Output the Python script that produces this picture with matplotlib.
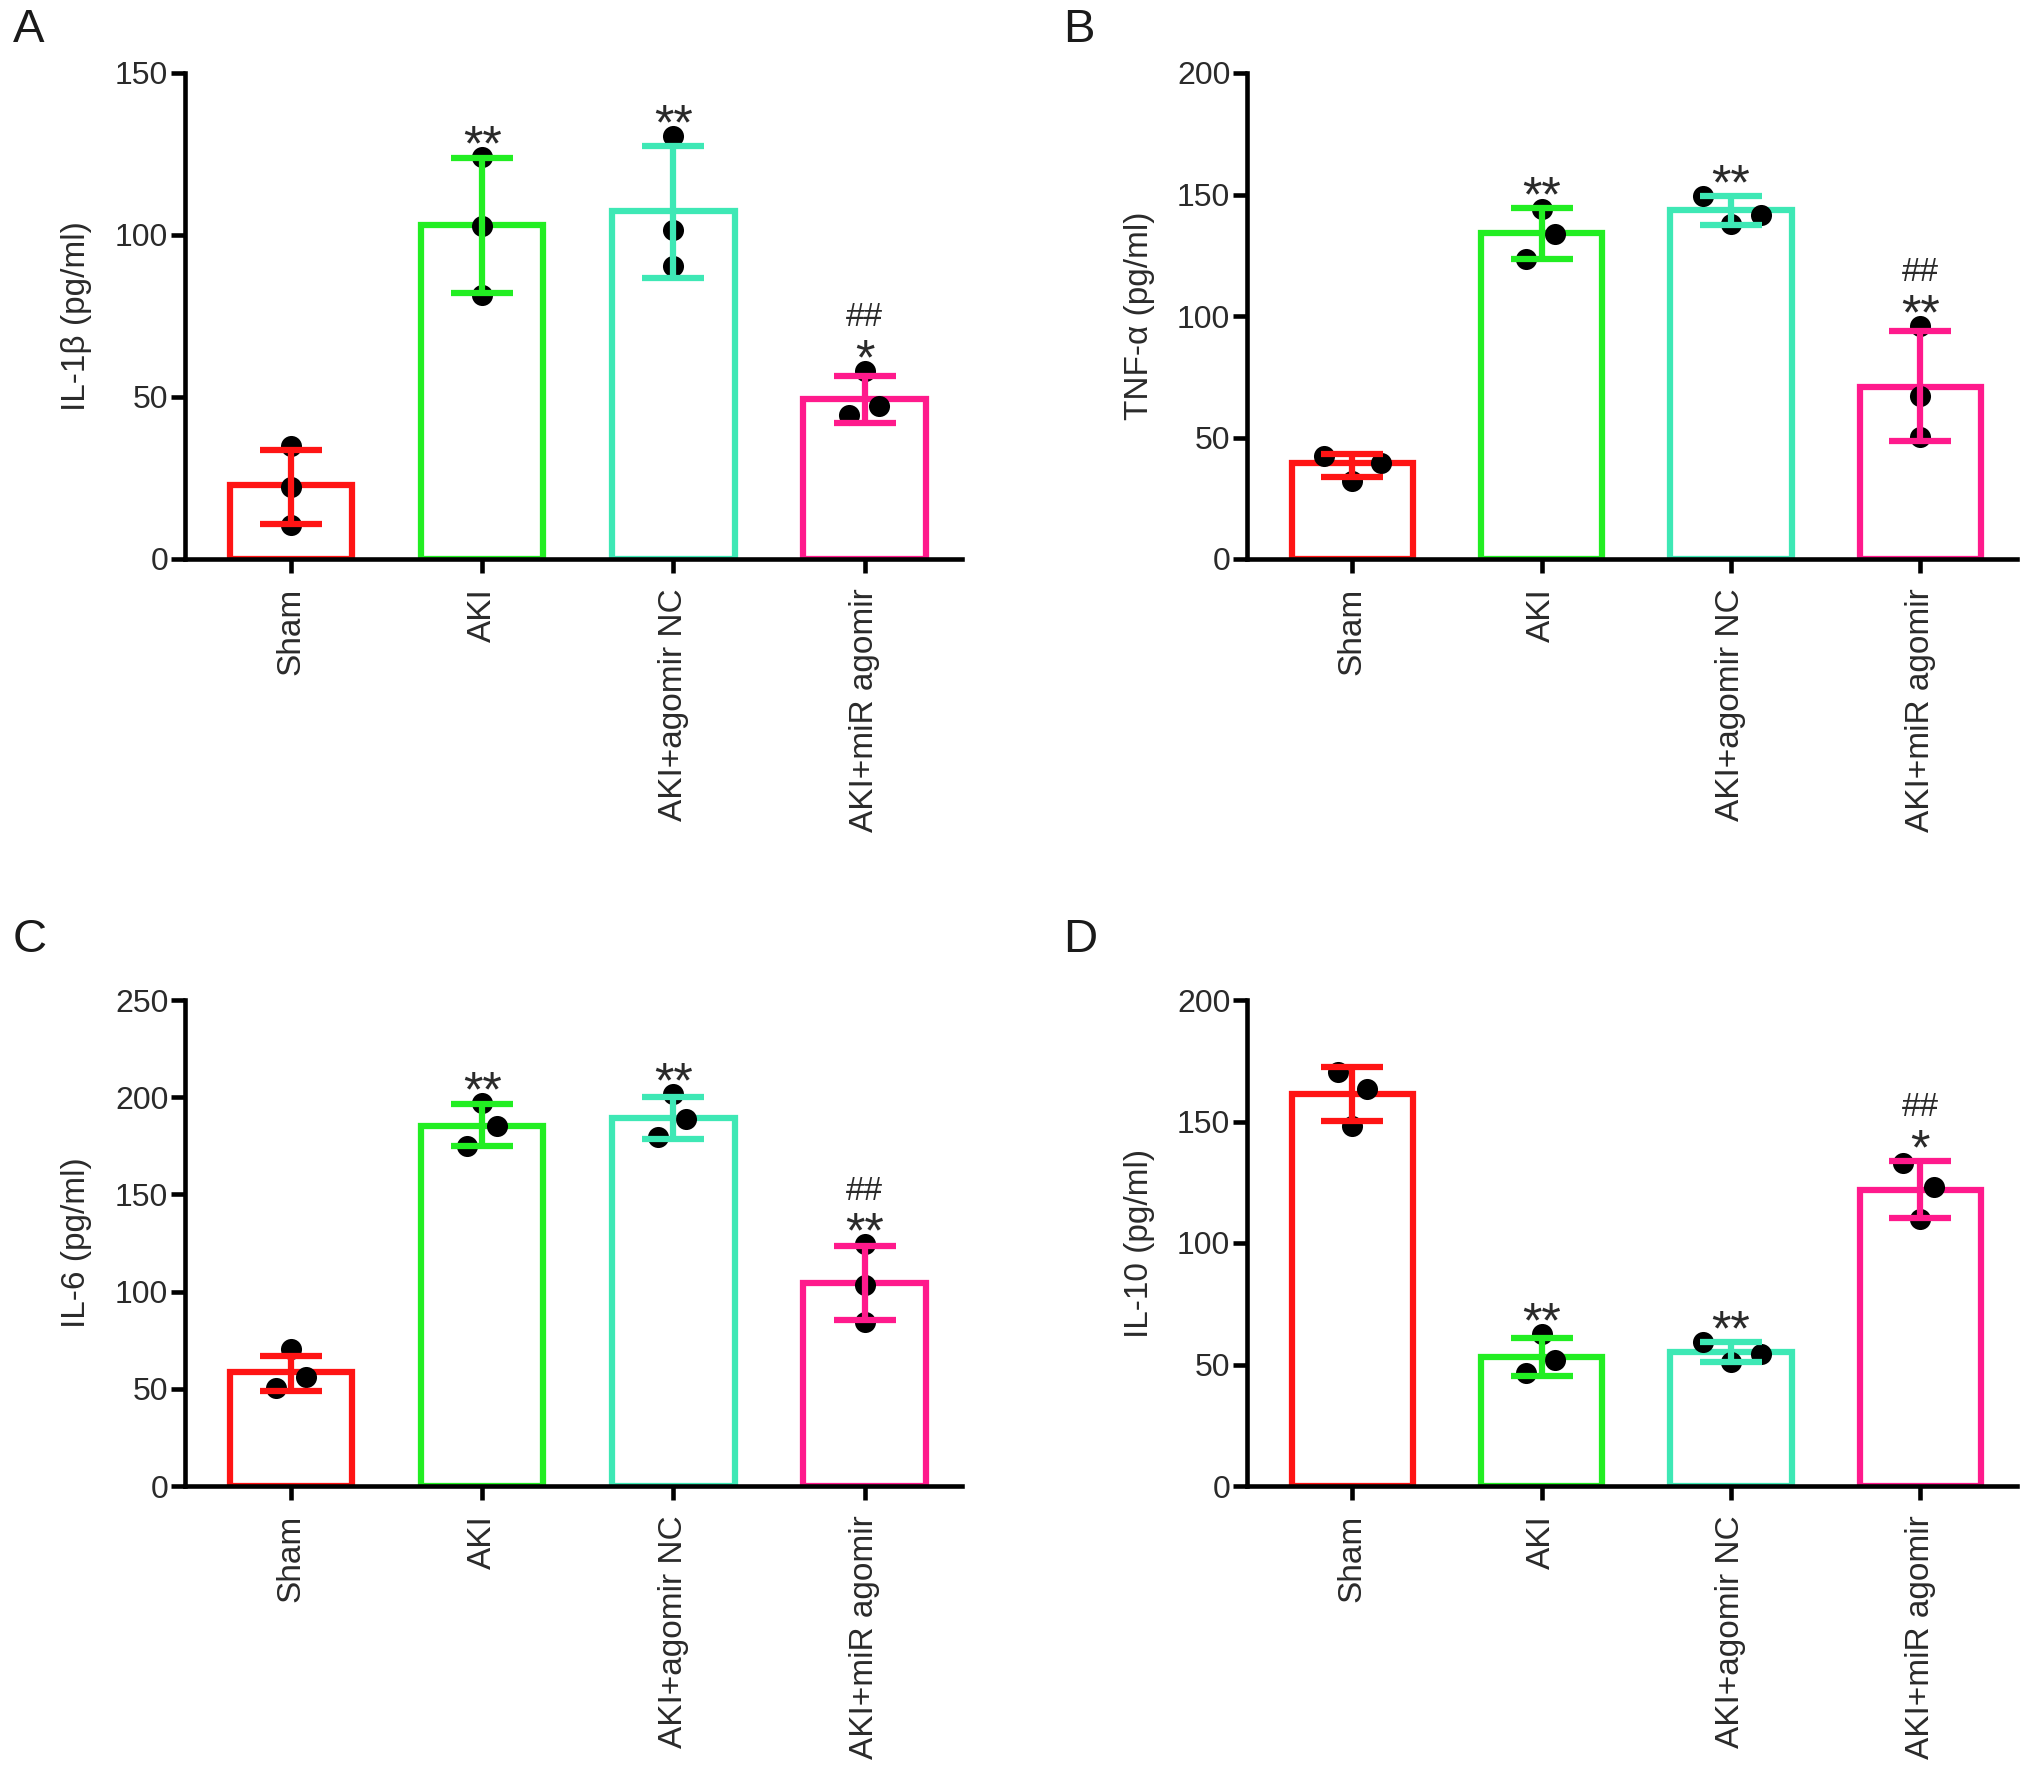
import matplotlib
matplotlib.use("Agg")
import matplotlib.pyplot as plt
import numpy as np

plt.rcParams['font.family'] = ['Liberation Sans', 'DejaVu Sans']

groups = ["Sham", "AKI", "AKI+agomir NC", "AKI+miR agomir"]
colors = ["#FF1414", "#22EE22", "#3EE8B5", "#FF1A8C"]

# Panel A: IL-1beta
a_mean = [22.7, 103.0, 107.5, 49.4]
a_lo = [10.9, 82.0, 86.6, 41.9]
a_hi = [33.7, 123.8, 127.6, 56.5]
a_pts = [[34.8, 22.2, 10.6], [124.0, 102.7, 81.5], [130.5, 101.6, 90.4], [58.1, 44.3, 47.2]]
a_jit = [[0, 0, 0], [0, 0, 0], [0, 0, 0], [0, -0.08, 0.075]]
a_star = ["", "**", "**", "*"]
a_hash = ["", "", "", "##"]

# Panel B: TNF-alpha
b_mean = [39.4, 134.3, 143.6, 70.9]
b_lo = [33.9, 123.6, 137.5, 48.5]
b_hi = [43.3, 144.4, 149.3, 93.7]
b_pts = [[42.5, 32.3, 39.4], [144.0, 133.9, 123.6], [149.3, 137.8, 141.7], [96.0, 66.9, 50.4]]
b_jit = [[-0.15, 0, 0.15], [0, 0.07, -0.08], [-0.15, 0, 0.16], [0, 0, 0]]
b_star = ["", "**", "**", "**"]
b_hash = ["", "", "", "##"]

# Panel C: IL-6
c_mean = [58.6, 185.2, 189.5, 104.6]
c_lo = [49.0, 174.9, 178.7, 85.6]
c_hi = [67.1, 196.4, 200.0, 123.2]
c_pts = [[70.3, 50.4, 56.0], [197.0, 175.0, 185.0], [201.5, 179.3, 188.8], [124.5, 103.6, 84.6]]
c_jit = [[0, -0.08, 0.077], [0, -0.08, 0.075], [0, -0.08, 0.067], [0, 0, 0]]
c_star = ["", "**", "**", "**"]
c_hash = ["", "", "", "##"]

# Panel D: IL-10
d_mean = [161.2, 53.2, 55.1, 121.7]
d_lo = [150.1, 45.3, 51.0, 110.3]
d_hi = [172.6, 61.1, 59.3, 133.8]
d_pts = [[170.3, 163.5, 148.3], [62.7, 51.7, 46.4], [59.3, 51.0, 54.4], [133.1, 123.2, 109.8]]
d_jit = [[-0.075, 0.078, 0], [0, 0.07, -0.08], [-0.15, 0, 0.16], [-0.09, 0.07, 0]]
d_star = ["", "**", "**", "*"]
d_hash = ["", "", "", "##"]

panels = [
    ("A", "IL-1β (pg/ml)", 150, [0, 50, 100, 150], a_mean, a_lo, a_hi, a_pts, a_jit, a_star, a_hash),
    ("B", "TNF-α (pg/ml)", 200, [0, 50, 100, 150, 200], b_mean, b_lo, b_hi, b_pts, b_jit, b_star, b_hash),
    ("C", "IL-6 (pg/ml)", 250, [0, 50, 100, 150, 200, 250], c_mean, c_lo, c_hi, c_pts, c_jit, c_star, c_hash),
    ("D", "IL-10 (pg/ml)", 200, [0, 50, 100, 150, 200], d_mean, d_lo, d_hi, d_pts, d_jit, d_star, d_hash),
]

W, H = 2032, 1773
fig = plt.figure(figsize=(W / 100, H / 100), dpi=100)

lefts = [185, 1247]
widths = [777, 770]
tops = [73, 1000]
height = 486
letter_pos = [(13, 8), (1063, 8), (13, 918), (1063, 918)]

text_col = "#2a2a2a"

for i, (letter, ylabel, ymax, yticks, mean, lo, hi, pts, jit, stars, hashes) in enumerate(panels):
    col = i % 2
    row = i // 2
    l = lefts[col] / W
    b = 1 - (tops[row] + height) / H
    ax = fig.add_axes([l, b, widths[col] / W, height / H])
    x = np.arange(len(groups))
    ax.bar(x, mean, width=0.64, facecolor="white", edgecolor=colors, linewidth=4.5, zorder=2)
    for j in range(len(groups)):
        ax.scatter(x[j] + np.array(jit[j]), pts[j], s=230, color="black", zorder=3, linewidths=0)
        ax.errorbar(x[j], mean[j], yerr=[[mean[j] - lo[j]], [hi[j] - mean[j]]], color=colors[j],
                    elinewidth=4.5, capsize=22, capthick=4.5, zorder=4, fmt="none")
        top = max(hi[j], max(pts[j]))
        if stars[j]:
            ax.annotate(stars[j], (x[j], top), xytext=(0, -2.5), textcoords="offset points",
                        ha="center", va="baseline", fontsize=36,
                        color=text_col, zorder=6)
        if hashes[j]:
            ax.annotate(hashes[j], (x[j], top), xytext=(0, 32), textcoords="offset points",
                        ha="center", va="baseline", fontsize=24, color=text_col, zorder=6)
    ax.set_xlim(-0.555, 3.51)
    ax.set_ylim(0, ymax)
    ax.set_yticks(yticks)
    ax.set_xticks(x)
    ax.set_xticklabels(groups, rotation=90, fontsize=24, color=text_col)
    ax.tick_params(axis="y", labelsize=23, labelcolor=text_col, length=10, width=3.3, pad=2)
    ax.tick_params(axis="x", length=10, width=3.3, pad=11)
    for s in ["top", "right"]:
        ax.spines[s].set_visible(False)
    for s in ["left", "bottom"]:
        ax.spines[s].set_linewidth(3.3)
        ax.spines[s].set_zorder(5)
    ax.set_ylabel(ylabel, fontsize=24, color=text_col)
    ax.yaxis.set_label_coords(-0.12, 0.5)
    lx, ly = letter_pos[i]
    fig.text(lx / W, 1 - ly / H, letter, fontsize=34, ha="left", va="top", color="#1a1a1a")

fig.savefig("out.png", dpi=100)
